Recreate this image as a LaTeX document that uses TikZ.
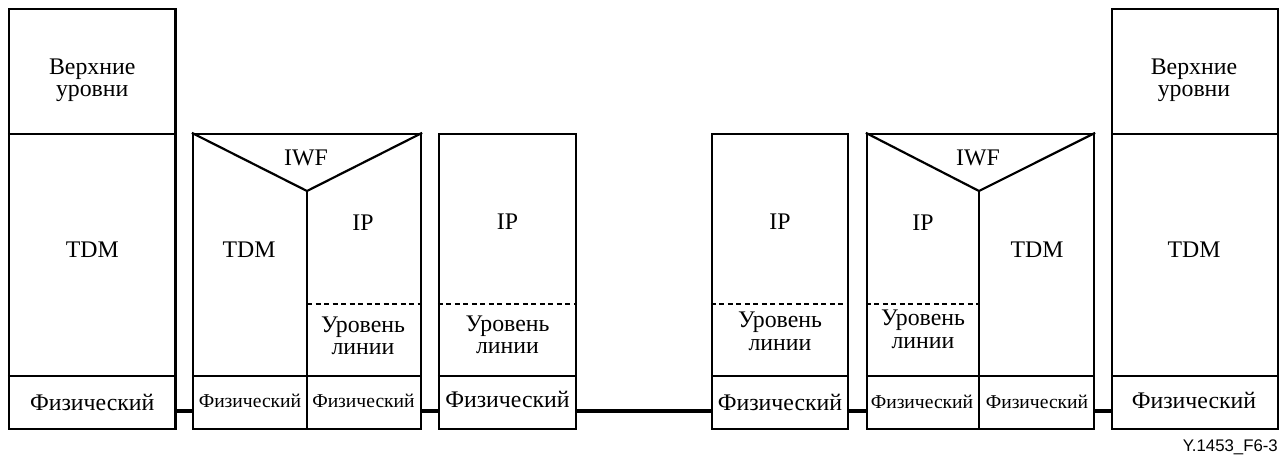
\documentclass[tikz,border=0pt]{standalone}
\usepackage{fontspec}
\setmainfont{Liberation Serif}
\newfontfamily\labelfont{Liberation Sans}
\begin{document}
\begin{tikzpicture}[x=1pt,y=-1pt,
  box/.style={draw,line width=2.2pt,inner sep=0pt,minimum height=#1},
  box/.default=295pt,
  sep/.style={line width=2.2pt},
  dash line/.style={line width=1.8pt,dash pattern=on 5pt off 3.5pt},
  conn/.style={line width=3.4pt},
  big/.style={font=\fontsize{23.8}{23.8}\selectfont,anchor=base,inner sep=0pt,align=center},
  small/.style={font=\fontsize{19.6}{19.6}\selectfont,anchor=base,inner sep=0pt},
  tag/.style={font=\labelfont\fontsize{16.8}{16.8}\selectfont,anchor=base east,inner sep=0pt}]
\useasboundingbox (0,0) rectangle (1283,457);
% outer boxes
\node[box=420pt,minimum width=166.5pt] (A) at (92.25,219) {};
\node[box,minimum width=228pt] (B) at (307,281.5) {};
\node[box,minimum width=137pt] (C) at (507.5,281.5) {};
\node[box,minimum width=136pt] (D) at (780,281.5) {};
\node[box,minimum width=227pt] (E) at (980.5,281.5) {};
\node[box=420pt,minimum width=166pt] (F) at (1195,219) {};
% box A
\draw[sep] (A.west |- 0,134) -- (A.east |- 0,134);
\draw[sep] (A.west |- 0,376) -- (A.east |- 0,376);
\node[big] (A1) at (92.25,75) {Верхние};
\node[big] (A2) at (92.25,97) {уровни};
\node[big] (A3) at (92.25,258) {TDM};
\node[big] (A4) at (92.25,410) {Физический};
% box B
\coordinate (Bv) at (307,191);
\draw[sep] (B.north west) -- (Bv) -- (B.north east);
\draw[sep] (Bv) -- (Bv |- B.south);
\draw[sep] (B.west |- 0,376) -- (B.east |- 0,376);
\draw[dash line] (307,304) -- (B.east |- 0,304);
\node[big] (B1) at (306,166) {IWF};
\node[big] (B2) at (249,258) {TDM};
\node[big] (B3) at (363,231) {IP};
\node[big] (B4) at (363,332) {Уровень};
\node[big] (B5) at (363,354) {линии};
\node[small] (B6) at (250,407) {Физический};
\node[small] (B7) at (363.5,407) {Физический};
% box C
\draw[sep] (C.west |- 0,376) -- (C.east |- 0,376);
\draw[dash line] (C.west |- 0,304) -- (C.east |- 0,304);
\node[big] (C1) at (507.5,230) {IP};
\node[big] (C2) at (507.5,331) {Уровень};
\node[big] (C3) at (507.5,353) {линии};
\node[big] (C4) at (507.5,407) {Физический};
% box D
\draw[sep] (D.west |- 0,376) -- (D.east |- 0,376);
\draw[dash line] (D.west |- 0,304) -- (D.east |- 0,304);
\node[big] (D1) at (780,230) {IP};
\node[big] (D2) at (780,327) {Уровень};
\node[big] (D3) at (780,350) {линии};
\node[big] (D4) at (780,410) {Физический};
% box E
\coordinate (Ev) at (979,191);
\draw[sep] (E.north west) -- (Ev) -- (E.north east);
\draw[sep] (Ev) -- (Ev |- E.south);
\draw[sep] (E.west |- 0,376) -- (E.east |- 0,376);
\draw[dash line] (E.west |- 0,304) -- (979,304);
\node[big] (E1) at (978,166) {IWF};
\node[big] (E2) at (923,231) {IP};
\node[big] (E3) at (1037,258) {TDM};
\node[big] (E4) at (923,325) {Уровень};
\node[big] (E5) at (923,348) {линии};
\node[small] (E6) at (922,408) {Физический};
\node[small] (E7) at (1037,408) {Физический};
% box F
\draw[sep] (F.west |- 0,134) -- (F.east |- 0,134);
\draw[sep] (F.west |- 0,376) -- (F.east |- 0,376);
\node[big] (F1) at (1194,75) {Верхние};
\node[big] (F2) at (1194,97) {уровни};
\node[big] (F3) at (1194,258) {TDM};
\node[big] (F4) at (1194,408) {Физический};
% connectors
\draw[conn] (A.east |- 0,411) -- (B.west |- 0,411);
\draw[conn] (B.east |- 0,411) -- (C.west |- 0,411);
\draw[conn] (C.east |- 0,411) -- (D.west |- 0,411);
\draw[conn] (D.east |- 0,411) -- (E.west |- 0,411);
\draw[conn] (E.east |- 0,411) -- (F.west |- 0,411);
% figure tag
\node[tag] (T) at (1278,451) {Y.1453\_F6-3};
\end{tikzpicture}
\end{document}
